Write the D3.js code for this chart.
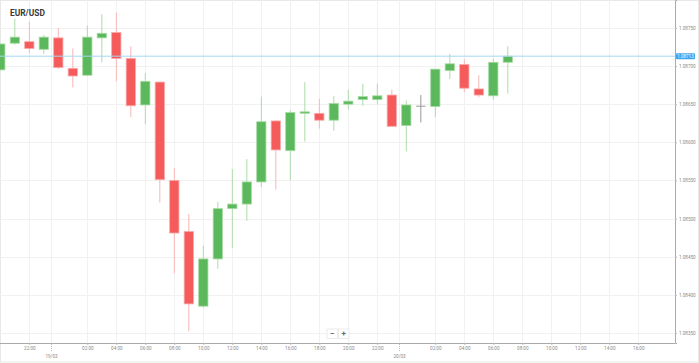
<!DOCTYPE html>
<html>
<head>
<meta charset="utf-8">
<script src="https://cdnjs.cloudflare.com/ajax/libs/d3/7.8.5/d3.min.js"></script>
<style>
  body { margin: 0; background: #fff; }
  text { font-family: Roboto, 'Open Sans', sans-serif; }
</style>
</head>
<body>
<div id="chart"></div>
<script>
// hourly candles, first one starts 18/03 20:00
const startTime = '2020-03-18T20:00:00Z';
const opens  = [1.08695, 1.08730, 1.08732, 1.08722, 1.08737, 1.08697, 1.08688, 1.08737, 1.08744, 1.08710,
                1.08649, 1.08679, 1.08550, 1.08483, 1.08385, 1.08447, 1.08513, 1.08519, 1.08548, 1.08628,
                1.08589, 1.08638, 1.08638, 1.08629, 1.08650, 1.08656, 1.08656, 1.08662, 1.08622, 1.08648,
                1.08647, 1.08694, 1.08702, 1.08670, 1.08661, 1.08705];
const highs  = [1.08730, 1.08762, 1.08758, 1.08741, 1.08750, 1.08723, 1.08753, 1.08768, 1.08770, 1.08726,
                1.08691, 1.08680, 1.08566, 1.08506, 1.08464, 1.08522, 1.08565, 1.08578, 1.08660, 1.08629,
                1.08642, 1.08679, 1.08657, 1.08661, 1.08669, 1.08677, 1.08677, 1.08669, 1.08655, 1.08662,
                1.08696, 1.08716, 1.08709, 1.08688, 1.08710, 1.08726];
const lows   = [1.08694, 1.08728, 1.08717, 1.08716, 1.08696, 1.08672, 1.08687, 1.08705, 1.08680, 1.08633,
                1.08624, 1.08521, 1.08428, 1.08352, 1.08383, 1.08434, 1.08461, 1.08497, 1.08541, 1.08538,
                1.08550, 1.08601, 1.08618, 1.08615, 1.08643, 1.08648, 1.08650, 1.08621, 1.08588, 1.08626,
                1.08633, 1.08683, 1.08666, 1.08659, 1.08656, 1.08664];
const closes = [1.08729, 1.08738, 1.08723, 1.08738, 1.08698, 1.08687, 1.08738, 1.08743, 1.08710, 1.08648,
                1.08680, 1.08551, 1.08481, 1.08388, 1.08447, 1.08513, 1.08519, 1.08548, 1.08627, 1.08590,
                1.08639, 1.08640, 1.08629, 1.08651, 1.08654, 1.08660, 1.08661, 1.08621, 1.08649, 1.08648,
                1.08696, 1.08703, 1.08671, 1.08662, 1.08705, 1.08713];

const priceTicks = [1.0835, 1.0840, 1.0845, 1.0850, 1.0855, 1.0860, 1.0865, 1.0870, 1.0875];
const hourTicks = ['2020-03-18T22:00:00Z', '2020-03-19T02:00:00Z', '2020-03-19T04:00:00Z', '2020-03-19T06:00:00Z',
                   '2020-03-19T08:00:00Z', '2020-03-19T10:00:00Z', '2020-03-19T12:00:00Z', '2020-03-19T14:00:00Z',
                   '2020-03-19T16:00:00Z', '2020-03-19T18:00:00Z', '2020-03-19T20:00:00Z', '2020-03-19T22:00:00Z',
                   '2020-03-20T02:00:00Z', '2020-03-20T04:00:00Z', '2020-03-20T06:00:00Z', '2020-03-20T08:00:00Z',
                   '2020-03-20T10:00:00Z', '2020-03-20T12:00:00Z', '2020-03-20T14:00:00Z', '2020-03-20T16:00:00Z'];
// day separators sit half an hour before midnight
const dayTicks = ['2020-03-18T23:30:00Z', '2020-03-19T23:30:00Z'];
const dayLabels = ['19/03', '20/03'];

const symbol = 'EUR/USD';
const lastPrice = 1.08713;

const width = 699;
const height = 363;
const plotW = 675;
const plotH = 343;

const svg = d3.select('#chart').append('svg')
  .attr('width', width)
  .attr('height', height);

// outer frame
svg.append('rect')
  .attr('x', 0.5).attr('y', 0.5)
  .attr('width', width - 1).attr('height', height - 1.5)
  .attr('fill', 'none')
  .attr('stroke', '#e8e8e8');

const x = d3.scaleUtc()
  .domain([new Date('2020-03-18T19:58:40Z'), new Date('2020-03-20T18:31:50Z')])
  .range([0, plotW]);

const y = d3.scaleLinear()
  .domain([1.083367, 1.087867])
  .range([plotH, 0]);

const candles = opens.map((o, i) => ({
  t: d3.utcHour.offset(new Date(startTime), i),
  o: o, h: highs[i], l: lows[i], c: closes[i]
}));

// grid
const grid = svg.append('g');
grid.selectAll('.hg')
  .data(priceTicks)
  .join('line')
  .attr('x1', 0).attr('x2', plotW)
  .attr('y1', d => Math.round(y(d)) + 0.5)
  .attr('y2', d => Math.round(y(d)) + 0.5)
  .attr('stroke', '#f1f1f1');
grid.selectAll('.vg')
  .data(hourTicks.concat(dayTicks).map(d => new Date(d)))
  .join('line')
  .attr('x1', d => Math.round(x(d)) + 0.5)
  .attr('x2', d => Math.round(x(d)) + 0.5)
  .attr('y1', 0).attr('y2', plotH)
  .attr('stroke', '#f1f1f1');

// candles
svg.append('clipPath').attr('id', 'clip')
  .append('rect').attr('width', plotW).attr('height', plotH);

const bodyW = (x(d3.utcHour.offset(new Date(startTime), 1)) - x(new Date(startTime))) * 0.64;

function candleColor(d) {
  if (d.c > d.o) return { fill: '#5cb85c', edge: '#a6dca2', wick: '#acdca9' };
  if (d.c < d.o) return { fill: '#f55b5b', edge: '#f9a8a8', wick: '#f8b6b6' };
  return { fill: '#999', edge: '#999', wick: '#999' };
}

const cg = svg.append('g').attr('clip-path', 'url(#clip)');
const candle = cg.selectAll('g')
  .data(candles)
  .join('g');

candle.append('line')
  .attr('x1', d => x(d.t)).attr('x2', d => x(d.t))
  .attr('y1', d => y(d.h)).attr('y2', d => y(d.l))
  .attr('stroke', d => candleColor(d).wick)
  .attr('stroke-width', 1);

candle.append('rect')
  .attr('x', d => x(d.t) - bodyW / 2)
  .attr('width', bodyW)
  .attr('y', d => y(Math.max(d.o, d.c)))
  .attr('height', d => Math.max(1, Math.abs(y(d.o) - y(d.c))))
  .attr('fill', d => candleColor(d).fill)
  .attr('stroke', d => d.o === d.c ? 'none' : candleColor(d).edge)
  .attr('stroke-width', 0.8);

// current price line
svg.append('line')
  .attr('x1', 0).attr('x2', plotW)
  .attr('y1', y(lastPrice)).attr('y2', y(lastPrice))
  .attr('stroke', '#a3d8f3')
  .attr('stroke-width', 1);

// right axis
const yAxis = svg.append('g')
  .attr('transform', 'translate(' + plotW + ',0)')
  .call(d3.axisRight(y).tickValues(priceTicks).tickFormat(d3.format('.5f')).tickSize(2).tickPadding(2));
yAxis.select('.domain').attr('stroke', '#aaa');
yAxis.selectAll('.tick line').attr('stroke', '#bbb');
yAxis.selectAll('text').attr('fill', '#8a8a8a').style('font-size', '4.6px');

// price label
const pl = svg.append('g').attr('transform', 'translate(676,' + y(lastPrice) + ')');
pl.append('rect')
  .attr('x', 0).attr('y', -3)
  .attr('width', 19).attr('height', 6)
  .attr('rx', 1)
  .attr('fill', '#3aa6f0');
pl.append('text')
  .attr('x', 9.5).attr('y', 1.6)
  .attr('text-anchor', 'middle')
  .style('font-size', '4.5px')
  .attr('fill', '#fff')
  .text(d3.format('.5f')(lastPrice));

// bottom axis
const xAxis = svg.append('g')
  .attr('transform', 'translate(0,' + plotH + ')')
  .call(d3.axisBottom(x).tickValues(hourTicks.map(d => new Date(d)))
    .tickFormat(d3.utcFormat('%H:%M')).tickSize(2).tickPadding(2));
xAxis.select('.domain').attr('stroke', '#aaa').attr('d', 'M0,0.5H' + plotW);
xAxis.selectAll('.tick line').attr('stroke', '#bbb');
xAxis.selectAll('text').attr('fill', '#8a8a8a').style('font-size', '4.6px');

// day markers: dotted tick and date below
const day = svg.append('g').selectAll('g')
  .data(dayTicks.map((d, i) => ({ t: new Date(d), label: dayLabels[i] })))
  .join('g')
  .attr('transform', d => 'translate(' + (Math.round(x(d.t)) + 0.5) + ',' + plotH + ')');
day.append('line')
  .attr('y1', 1).attr('y2', 9)
  .attr('stroke', '#bbb')
  .attr('stroke-dasharray', '1,1');
day.append('text')
  .attr('y', 14.8)
  .attr('text-anchor', 'middle')
  .attr('fill', '#8a8a8a')
  .style('font-size', '4.6px')
  .text(d => d.label);

// title
svg.append('text')
  .attr('x', 10).attr('y', 15.5)
  .style('font-size', '8.4px')
  .style('font-weight', 'bold')
  .attr('fill', '#3a3a3a')
  .text(symbol);

// zoom buttons
const zb = svg.append('g').attr('transform', 'translate(327,329)');
['\u2212', '+'].forEach((s, i) => {
  zb.append('rect')
    .attr('x', i * 11.5).attr('y', 0)
    .attr('width', 10.5).attr('height', 9.5)
    .attr('fill', '#fff')
    .attr('stroke', '#ececec');
  zb.append('text')
    .attr('x', i * 11.5 + 5.25).attr('y', 7.3)
    .attr('text-anchor', 'middle')
    .style('font-size', '8px')
    .style('font-weight', 'bold')
    .attr('fill', '#666')
    .text(s);
});
</script>
</body>
</html>
